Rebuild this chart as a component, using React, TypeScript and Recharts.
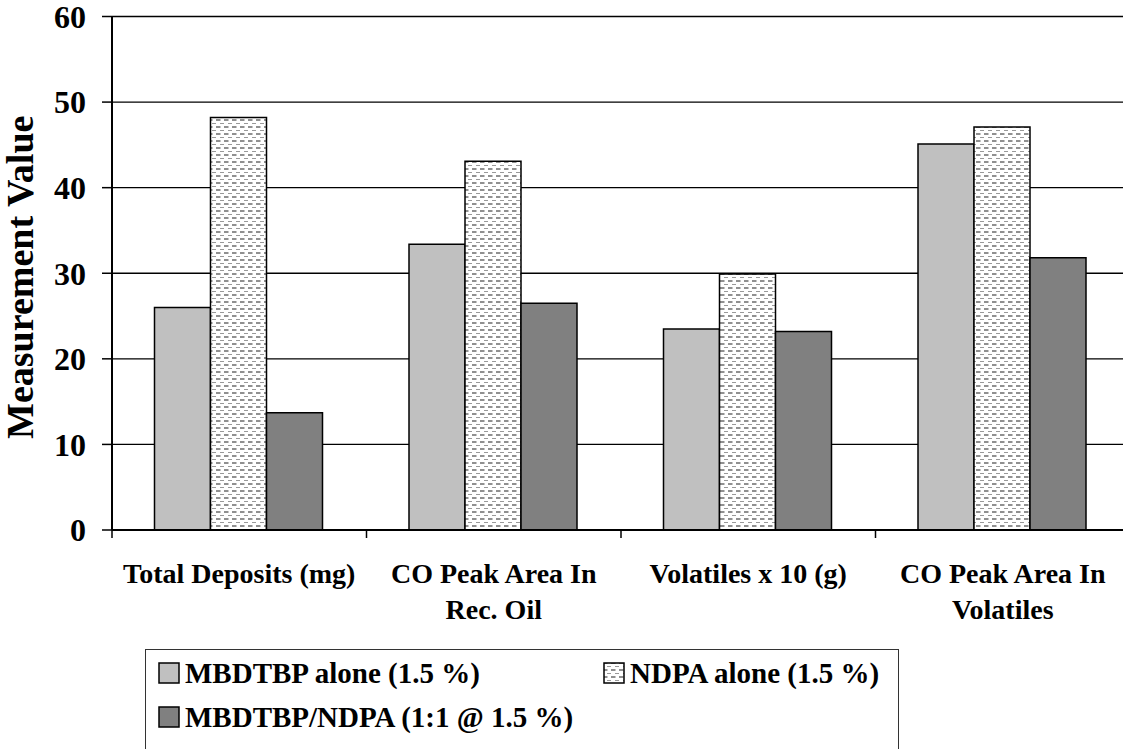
import React from 'react';
import { BarChart, Bar, XAxis, YAxis, CartesianGrid } from 'recharts';

const categories = [
  'Total Deposits (mg)',
  'CO Peak Area In Rec. Oil',
  'Volatiles x 10 (g)',
  'CO Peak Area In Volatiles',
];
const categoryLines = [
  ['Total Deposits (mg)'],
  ['CO Peak Area In', 'Rec. Oil'],
  ['Volatiles x 10 (g)'],
  ['CO Peak Area In', 'Volatiles'],
];
const mbdtbpAlone = [26.0, 33.4, 23.5, 45.1];
const ndpaAlone = [48.2, 43.1, 29.9, 47.1];
const mbdtbpNdpa = [13.7, 26.5, 23.2, 31.8];
const seriesNames = ['MBDTBP alone (1.5 %)', 'NDPA alone (1.5 %)', 'MBDTBP/NDPA (1:1 @ 1.5 %)'];
const yTicks = [0, 10, 20, 30, 40, 50, 60];
const yTitle = 'Measurement Value';

const data = categories.map((c, i) => ({
  category: c,
  a: mbdtbpAlone[i],
  b: ndpaAlone[i],
  c: mbdtbpNdpa[i],
}));

const FONT = '"Liberation Serif", "Times New Roman", serif';
const CHART_W = 1140;
const CHART_H = 640;
const Y_AXIS_W = 112;
const MARGIN = { top: 16.5, right: 10, bottom: 0, left: 0 };
const BAND = (CHART_W - MARGIN.left - MARGIN.right - Y_AXIS_W) / categories.length;

const fills = ['#C0C0C0', 'url(#ndpaPattern)', '#808080'];

const XTick = (props: any) => {
  const { x, y, payload } = props;
  const idx = categories.indexOf(payload.value);
  const lines = categoryLines[idx] || [payload.value];
  const left = x - BAND / 2;
  return (
    <g>
      <line x1={left} x2={left} y1={y - 8} y2={y} stroke="#000" strokeWidth={1.5} />
      <text
        x={x}
        y={y + 45}
        textAnchor="middle"
        fontFamily={FONT}
        fontWeight="bold"
        fontSize={28}
        fill="#000"
      >
        {lines.map((l, i) => (
          <tspan key={i} x={x} dy={i === 0 ? 0 : 36}>
            {l}
          </tspan>
        ))}
      </text>
    </g>
  );
};

const YTitle = (props: any) => {
  const vb = props.viewBox || { x: 0, y: MARGIN.top, width: Y_AXIS_W, height: 513.5 };
  const cx = 20;
  const cy = vb.y + vb.height / 2 + 4;
  return (
    <text
      x={cx}
      y={cy}
      transform={`rotate(-90, ${cx}, ${cy})`}
      textAnchor="middle"
      dominantBaseline="central"
      fontFamily={FONT}
      fontWeight="bold"
      fontSize={38}
      fill="#000"
    >
      {yTitle}
    </text>
  );
};

const Swatch = ({ fill }: { fill: string }) => (
  <svg width={22} height={22} style={{ display: 'block' }}>
    <rect x={1} y={1} width={20} height={20} fill={fill} stroke="#000" strokeWidth={1.5} />
  </svg>
);

const legendItems = [
  { name: seriesNames[0], fill: fills[0], left: 12, top: 12 },
  { name: seriesNames[1], fill: fills[1], left: 457, top: 12 },
  { name: seriesNames[2], fill: fills[2], left: 12, top: 56 },
];

export default function App() {
  return (
    <div
      style={{
        position: 'absolute',
        left: 0,
        top: 0,
        width: 1123,
        height: 749,
        overflow: 'hidden',
        background: '#fff',
      }}
    >
      <svg width={0} height={0} style={{ position: 'absolute' }}>
        <defs>
          <pattern id="ndpaPattern" patternUnits="userSpaceOnUse" width={8} height={7}>
            <rect x={0} y={0} width={8} height={7} fill="#fff" />
            <rect x={0} y={0.5} width={4.5} height={1} fill="#222" />
            <rect x={4} y={4} width={4.5} height={1} fill="#999" />
          </pattern>
        </defs>
      </svg>
      <BarChart
        width={CHART_W}
        height={CHART_H}
        data={data}
        margin={MARGIN}
        barGap={0}
        barCategoryGap="16.7%"
      >
        <CartesianGrid vertical={false} stroke="#000" strokeWidth={1.3} />
        <XAxis
          dataKey="category"
          interval={0}
          height={CHART_H - 530}
          tickLine={false}
          tickSize={8}
          tickMargin={0}
          axisLine={{ stroke: '#000', strokeWidth: 2 }}
          tick={<XTick />}
        />
        <YAxis
          width={Y_AXIS_W}
          domain={[0, 60]}
          ticks={yTicks}
          interval={0}
          tickSize={10}
          tickMargin={16}
          axisLine={{ stroke: '#000', strokeWidth: 2 }}
          tickLine={{ stroke: '#000', strokeWidth: 1.5 }}
          tick={{ fontFamily: FONT, fontWeight: 'bold', fontSize: 32, fill: '#000' }}
          label={<YTitle />}
        />
        <Bar dataKey="a" name={seriesNames[0]} fill={fills[0]} stroke="#000" strokeWidth={1.5} isAnimationActive={false} />
        <Bar dataKey="b" name={seriesNames[1]} fill={fills[1]} stroke="#000" strokeWidth={1.5} isAnimationActive={false} />
        <Bar dataKey="c" name={seriesNames[2]} fill={fills[2]} stroke="#000" strokeWidth={1.5} isAnimationActive={false} />
      </BarChart>
      <div
        style={{
          position: 'absolute',
          left: 145,
          top: 649,
          width: 754,
          height: 140,
          border: '1.5px solid #333',
          boxSizing: 'border-box',
        }}
      >
        {legendItems.map((it, i) => (
          <div
            key={i}
            style={{
              position: 'absolute',
              left: it.left,
              top: it.top,
              display: 'flex',
              alignItems: 'center',
              fontFamily: FONT,
              fontWeight: 'bold',
              fontSize: 29,
              lineHeight: '22px',
              whiteSpace: 'nowrap',
              color: '#000',
            }}
          >
            <Swatch fill={it.fill} />
            <span style={{ marginLeft: 5 }}>{it.name}</span>
          </div>
        ))}
      </div>
    </div>
  );
}
